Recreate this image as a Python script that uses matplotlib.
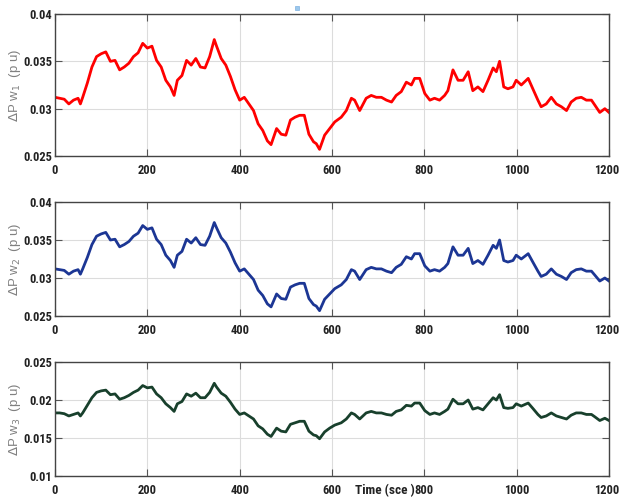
import matplotlib
matplotlib.use("Agg")
from matplotlib import pyplot as plt
from matplotlib import font_manager
from matplotlib.patches import Rectangle
from matplotlib.transforms import ScaledTranslation

# time samples (s)
time_s = [
    0, 10, 20, 30, 40, 50, 55, 60, 70, 80, 90, 100, 110, 120, 130, 140, 150, 160, 170, 180,
    190, 200, 210, 220, 230, 240, 250, 258, 265, 275, 285, 295, 305, 315, 325, 335, 345, 350,
    360, 370, 380, 390, 400, 410, 420, 430, 440, 450, 460, 468, 480, 490, 500, 510, 520, 530,
    540, 550, 560, 566, 573, 584, 595, 606, 620, 631, 642, 649, 660, 674, 685, 696, 707, 718,
    729, 739, 750, 761, 772, 779, 790, 801, 812, 822, 833, 844, 851, 862, 873, 884, 895, 905,
    916, 927, 938, 949, 956, 963, 972, 981, 992, 999, 1010, 1025, 1035, 1046, 1053, 1064,
    1075, 1086, 1097, 1108, 1118, 1129, 1140, 1151, 1162, 1169, 1180, 1191, 1200,
]

# wind power deviation, area 1 (pu)
dpw1 = [
    .0312, .0311, .0310, .0305, .0309, .0311, .0305, .0312, .0327, .0344, .0355, .0358, .0360,
    .0350, .0351, .0341, .0344, .0348, .0355, .0359, .0369, .0364, .0366, .0351, .0344, .0330,
    .0323, .0314, .0330, .0335, .0351, .0346, .0353, .0344, .0343, .0355, .0373, .0366, .0353,
    .0346, .0334, .0320, .0309, .0312, .0305, .0298, .0284, .0277, .0266, .0262, .0279, .0273,
    .0272, .0288, .0291, .0293, .0293, .0273, .0265, .0263, .0257, .0272, .0279, .0286, .0291,
    .0298, .0311, .0309, .0298, .0311, .0314, .0312, .0312, .0309, .0307, .0314, .0318, .0328,
    .0325, .0332, .0332, .0316, .0309, .0311, .0309, .0314, .0319, .0341, .0330, .0330, .0339,
    .0319, .0323, .0318, .0330, .0343, .0339, .0350, .0323, .0321, .0323, .0330, .0325, .0332,
    .0321, .0309, .0302, .0305, .0312, .0305, .0302, .0298, .0307, .0311, .0312, .0309, .0309,
    .0304, .0296, .0300, .0296,
]

# area 2 follows the same wind profile
dpw2 = [
    .0312, .0311, .0310, .0305, .0309, .0311, .0305, .0312, .0327, .0344, .0355, .0358, .0360,
    .0350, .0351, .0341, .0344, .0348, .0355, .0359, .0369, .0364, .0366, .0351, .0344, .0330,
    .0323, .0314, .0330, .0335, .0351, .0346, .0353, .0344, .0343, .0355, .0373, .0366, .0353,
    .0346, .0334, .0320, .0309, .0312, .0305, .0298, .0284, .0277, .0266, .0262, .0279, .0273,
    .0272, .0288, .0291, .0293, .0293, .0273, .0265, .0263, .0257, .0272, .0279, .0286, .0291,
    .0298, .0311, .0309, .0298, .0311, .0314, .0312, .0312, .0309, .0307, .0314, .0318, .0328,
    .0325, .0332, .0332, .0316, .0309, .0311, .0309, .0314, .0319, .0341, .0330, .0330, .0339,
    .0319, .0323, .0318, .0330, .0343, .0339, .0350, .0323, .0321, .0323, .0330, .0325, .0332,
    .0321, .0309, .0302, .0305, .0312, .0305, .0302, .0298, .0307, .0311, .0312, .0309, .0309,
    .0304, .0296, .0300, .0296,
]

# area 3 (pu)
dpw3 = [
    .0183, .0183, .0182, .0179, .0181, .0183, .0179, .0183, .0193, .0203, .0210, .0212, .0213,
    .0207, .0208, .0201, .0203, .0206, .0210, .0213, .0219, .0216, .0217, .0208, .0203, .0195,
    .0190, .0185, .0195, .0198, .0208, .0205, .0209, .0203, .0203, .0210, .0222, .0217, .0209,
    .0205, .0197, .0188, .0181, .0183, .0179, .0175, .0166, .0162, .0155, .0152, .0163, .0159,
    .0158, .0168, .0170, .0172, .0172, .0159, .0154, .0153, .0149, .0158, .0163, .0167, .0170,
    .0175, .0183, .0181, .0175, .0183, .0185, .0183, .0183, .0181, .0180, .0185, .0187, .0193,
    .0192, .0196, .0196, .0186, .0181, .0183, .0181, .0185, .0188, .0201, .0195, .0195, .0200,
    .0188, .0190, .0187, .0195, .0203, .0200, .0207, .0190, .0189, .0190, .0195, .0192, .0196,
    .0189, .0181, .0177, .0179, .0183, .0179, .0177, .0175, .0180, .0183, .0183, .0181, .0181,
    .0178, .0173, .0176, .0173,
]

x_ticks = [0, 200, 400, 600, 800, 1000, 1200]
y_ticks_12 = [0.025, 0.03, 0.035, 0.04]
y_tick_labels_12 = ["0.025", "0.03", "0.035", "0.04"]
y_ticks_3 = [0.01, 0.015, 0.02, 0.025]
y_tick_labels_3 = ["0.01", "0.015", "0.02", "0.025"]


def pick_narrow_font():
    # prefer a condensed face for the numbers, fall back to plain sans
    entries = font_manager.fontManager.ttflist
    names = {f.name for f in entries}
    for cand in ["Liberation Sans Narrow", "Roboto Condensed", "Open Sans Condensed",
                 "Noto Sans Condensed", "DejaVu Sans Condensed", "Arial Narrow"]:
        if cand in names:
            return cand, "normal"
    for f in entries:
        if f.name in ("DejaVu Sans", "Noto Sans", "Open Sans") and "condensed" in str(f.stretch):
            return f.name, "condensed"
    return "Liberation Sans", "normal"


TICK_FAMILY, TICK_STRETCH = pick_narrow_font()
TICK_FONT = [TICK_FAMILY, "DejaVu Sans"]


def style_axes(ax, yticks, ylabels, ylabel):
    ax.set_xlim(0, 1200)
    ax.set_ylim(yticks[0], yticks[-1])
    ax.set_xticks(x_ticks)
    ax.set_yticks(yticks)
    ax.set_yticklabels(ylabels)
    ax.grid(True, color="#dcdcdc", linewidth=0.8)
    ax.set_axisbelow(True)
    ax.tick_params(direction="in", length=5, width=0.8, color="#555555",
                   top=True, right=True, labelsize=9)
    ax.tick_params(axis="x", pad=6)
    ax.tick_params(axis="y", pad=2)
    for lab in ax.get_xticklabels() + ax.get_yticklabels():
        lab.set_family(TICK_FONT)
        lab.set_stretch(TICK_STRETCH)
        lab.set_fontweight("bold")
        lab.set_color("#222222")
    # keep the last x label inside the figure edge
    last = ax.get_xticklabels()[-1]
    last.set_horizontalalignment("right")
    last.set_transform(last.get_transform() + ScaledTranslation(10 / 100, 0, fig.dpi_scale_trans))
    for sp in ax.spines.values():
        sp.set_color("#444444")
        sp.set_linewidth(1.0)
    ax.set_ylabel(ylabel, color="#808080", fontsize=9.5,
                  family=["Liberation Sans", "DejaVu Sans"])
    ax.yaxis.set_label_coords(-0.058, 0.5)


fig = plt.figure(figsize=(6.2, 4.98), dpi=100)
W, H = 620, 498
left, right = 55 / W, 609 / W
panels = [(14, 156), (202, 316), (362, 476)]
axes = [fig.add_axes([left, 1 - bot / H, right - left, (bot - top) / H]) for top, bot in panels]

axes[0].plot(time_s, dpw1, color="#ff0000", linewidth=2.0)
style_axes(axes[0], y_ticks_12, y_tick_labels_12, r"$\Delta$P w$_1$  (p u)")

axes[1].plot(time_s, dpw2, color="#1c3694", linewidth=2.0)
style_axes(axes[1], y_ticks_12, y_tick_labels_12, r"$\Delta$P w$_2$  (p u)")

axes[2].plot(time_s, dpw3, color="#18402c", linewidth=2.0)
style_axes(axes[2], y_ticks_3, y_tick_labels_3, r"$\Delta$P w$_3$  (p u)")

# axis title sits on the tick label row, left of the 800 label
fig.text(355 / W, 1 - 494 / H, "Time (sce )", family=TICK_FONT, stretch=TICK_STRETCH,
         fontsize=9.5, fontweight="bold", color="#222222", va="baseline")

# small marker above the top panel
fig.patches.append(Rectangle((295 / W, 1 - 10 / H), 4 / W, 4 / H, transform=fig.transFigure,
                             facecolor="#9cc8ec", edgecolor="#7fb2e0", linewidth=0.5))

fig.savefig("out.png", dpi=100, facecolor="white")
